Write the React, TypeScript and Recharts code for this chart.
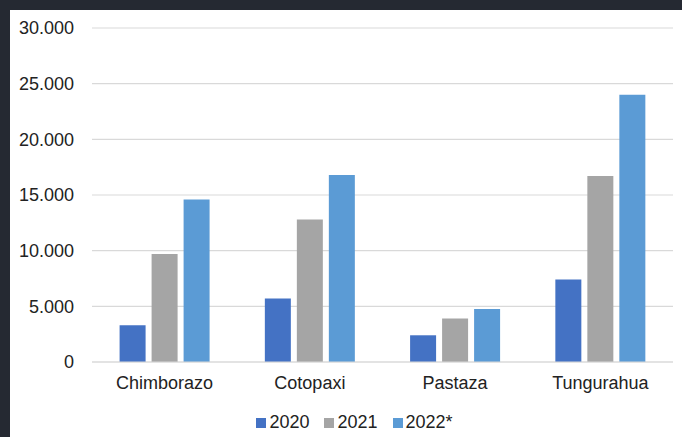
import React from 'react';
import { BarChart, Bar, XAxis, YAxis, CartesianGrid, Legend } from 'recharts';

const provinces = ['Chimborazo', 'Cotopaxi', 'Pastaza', 'Tungurahua'];
const values2020 = [3300, 5700, 2400, 7400];
const values2021 = [9700, 12800, 3900, 16700];
const values2022 = [14600, 16800, 4750, 24000];
const yTicks = [0, 5000, 10000, 15000, 20000, 25000, 30000];

const series = [
  { key: 'v2020', name: '2020', color: '#4472C4' },
  { key: 'v2021', name: '2021', color: '#A5A5A5' },
  { key: 'v2022', name: '2022*', color: '#5B9BD5' },
];

const data = provinces.map((name, i) => ({
  name,
  v2020: values2020[i],
  v2021: values2021[i],
  v2022: values2022[i],
}));

const fmt = (v: number) => (v === 0 ? '0' : v.toLocaleString('de-DE'));

const font = '"Liberation Sans", Arial, sans-serif';

const LegendContent = () => (
  <div
    style={{
      display: 'flex',
      justifyContent: 'center',
      alignItems: 'center',
      height: 35,
      paddingTop: 6,
      paddingLeft: 26,
      boxSizing: 'border-box',
      fontFamily: font,
      fontSize: 18,
      color: '#222',
    }}
  >
    {series.map((s, i) => (
      <div key={s.key} style={{ display: 'flex', alignItems: 'center', marginRight: i < series.length - 1 ? 15 : 0 }}>
        <span style={{ width: 10, height: 10, background: s.color, marginRight: 3, display: 'inline-block' }} />
        <span>{s.name}</span>
      </div>
    ))}
  </div>
);

const App: React.FC = () => {
  return (
    <div style={{ position: 'absolute', top: 0, left: 0, width: 682, height: 437, background: '#252932' }}>
      <div style={{ position: 'absolute', top: 10, left: 10, width: 672, height: 427, background: '#fff' }}>
        <BarChart
          width={672}
          height={427}
          data={data}
          margin={{ top: 18, right: 9, bottom: 0, left: 0 }}
          barCategoryGap="19%"
          barGap={6}
        >
          <CartesianGrid vertical={false} stroke="#d9d9d9" strokeWidth={1.2} />
          <XAxis
            dataKey="name"
            height={40}
            tickLine={false}
            tickSize={0}
            tickMargin={14}
            axisLine={{ stroke: '#d9d9d9', strokeWidth: 1.2 }}
            tick={{ fill: '#222', fontSize: 18, fontFamily: font }}
          />
          <YAxis
            width={82}
            domain={[0, 30000]}
            ticks={yTicks}
            tickFormatter={fmt}
            axisLine={false}
            tickLine={false}
            tickSize={0}
            tickMargin={18}
            tick={{ fill: '#222', fontSize: 18, fontFamily: font }}
          />
          <Legend verticalAlign="bottom" height={35} content={<LegendContent />} />
          {series.map((s) => (
            <Bar key={s.key} dataKey={s.key} name={s.name} fill={s.color} isAnimationActive={false} />
          ))}
        </BarChart>
      </div>
    </div>
  );
};

export default App;
